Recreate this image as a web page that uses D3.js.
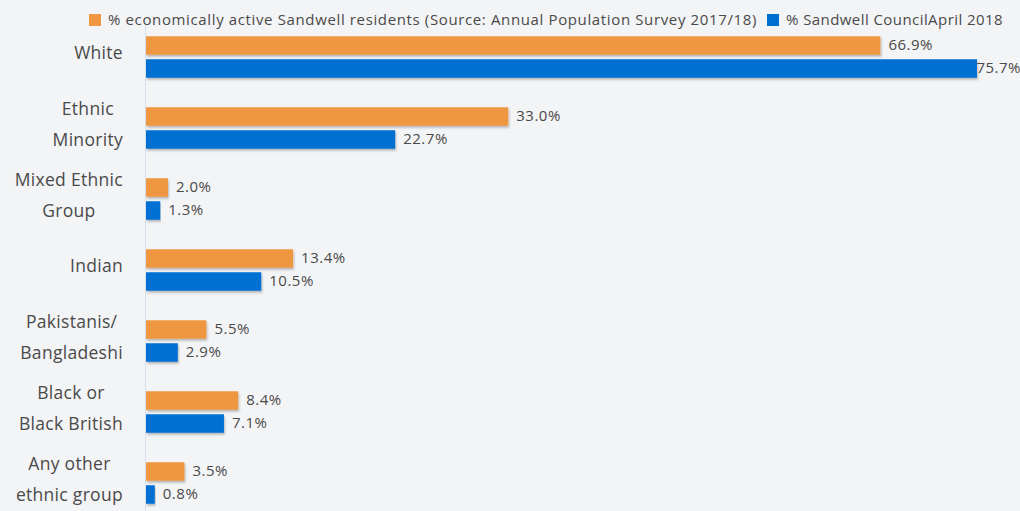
<!DOCTYPE html>
<html><head><meta charset="utf-8">
<script src="https://cdn.jsdelivr.net/npm/d3@7"></script>
<style>
html,body{margin:0;padding:0;background:#f3f4f6;}
svg{display:block;}
text{font-family:"Open Sans",sans-serif;}
</style></head>
<body>
<svg id="c" width="1020" height="511"></svg>
<script>
const categories = [["White"],["Ethnic","Minority"],["Mixed Ethnic","Group"],["Indian"],["Pakistanis/","Bangladeshi"],["Black or","Black British"],["Any other","ethnic group"]];
const seriesNames = ["% economically active Sandwell residents (Source: Annual Population Survey 2017/18)","% Sandwell CouncilApril 2018"];
const apsValues = [66.9,33.0,2.0,13.4,5.5,8.4,3.5];
const councilValues = [75.7,22.7,1.3,10.5,2.9,7.1,0.8];
const colors = ["#ef9641","#006fd2"];

const W=1020,H=511;
const svg=d3.select("#c");
svg.append("rect").attr("width",W).attr("height",H).attr("fill","#f3f4f6");
const defs=svg.append("defs");
const f=defs.append("filter").attr("id","sh").attr("x","-5%").attr("y","-30%").attr("width","110%").attr("height","180%");
f.append("feDropShadow").attr("dx",1).attr("dy",2).attr("stdDeviation",1).attr("flood-color","#000").attr("flood-opacity",0.25);

const keys=categories.map((c,i)=>i);
const y=d3.scaleBand().domain(keys).range([22,519]).paddingInner(0).paddingOuter(0);
const x=d3.scaleLinear().domain([0,75.7]).range([146,977]);
const barH=18.5, gap=4.5;

function fit(sel,target){
  const n=sel.text().length;
  const w=sel.node().getComputedTextLength();
  sel.attr("letter-spacing",((target-w)/n).toFixed(3));
}

svg.append("line").attr("x1",145.5).attr("x2",145.5).attr("y1",23).attr("y2",H).attr("stroke","#d9e1ee").attr("stroke-width",1);

const series=[apsValues,councilValues];
series.forEach((vals,s)=>{
  const g=svg.append("g");
  g.selectAll("rect").data(vals).join("rect")
    .attr("x",x(0))
    .attr("y",(d,i)=>y(i)+y.bandwidth()/2-barH-gap/2+(s? barH+gap:0)-0.5)
    .attr("width",d=>x(d)-x(0))
    .attr("height",barH)
    .attr("fill",colors[s])
    .attr("filter","url(#sh)");
  g.selectAll("text").data(vals).join("text")
    .attr("y",(d,i)=>y(i)+y.bandwidth()/2-barH/2-gap/2+(s? barH+gap:0)+3.5)
    .attr("font-size",15).attr("fill","#4a4a4a")
    .text(d=>d.toFixed(1)+"%")
    .each(function(d){
      const sel=d3.select(this);
      const w0=this.getComputedTextLength();
      fit(sel,w0*1.06);
      const tw=this.getComputedTextLength();
      sel.attr("x",Math.min(x(d)+8,W-tw+1));
    });
});

const lab=svg.append("g");
categories.forEach((lines,i)=>{
  const t=lab.append("text").attr("font-size",17.5).attr("fill","#4a4a4a").attr("text-anchor","middle").attr("letter-spacing",0.3);
  const cy=y(i)+y.bandwidth()/2-5;
  const lh=31;
  const n=lines.length;
  lines.forEach((ln,j)=>{
    t.append("tspan").attr("y",cy+(j-(n-1)/2)*lh+6.5).text(ln);
  });
  let maxW=0;
  t.selectAll("tspan").each(function(){maxW=Math.max(maxW,this.getComputedTextLength());});
  t.selectAll("tspan").attr("x",123-maxW/2);
});

const lg=svg.append("g");
const lx=[89,767];
const targets=[649,217];
seriesNames.forEach((nm,s)=>{
  lg.append("rect").attr("x",lx[s]).attr("y",14).attr("width",12).attr("height",12).attr("fill",colors[s]);
  const t=lg.append("text").attr("x",lx[s]+19).attr("y",25).attr("font-size",15).attr("fill","#4a4a4a").text(nm);
  fit(t,targets[s]);
});
</script>
</body></html>
